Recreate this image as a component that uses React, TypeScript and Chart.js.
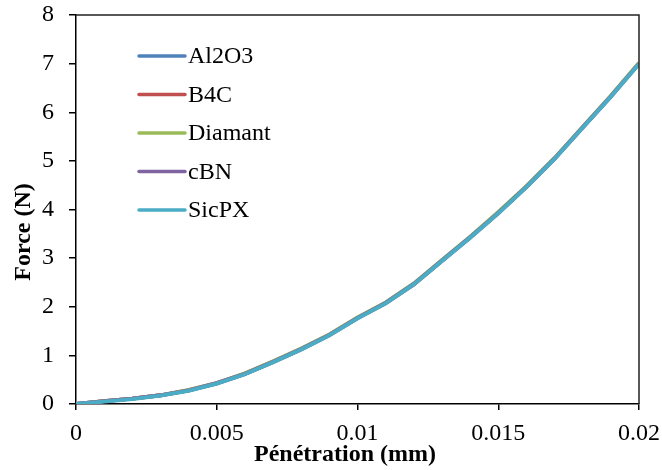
import React, { useEffect, useRef } from "react";
import { Chart, registerables } from "chart.js";

Chart.register(...registerables);

const penetration = [0, 0.001, 0.002, 0.003, 0.004, 0.005, 0.006, 0.007, 0.008, 0.009, 0.01, 0.011, 0.012, 0.013, 0.014, 0.015, 0.016, 0.017, 0.018, 0.019, 0.02];
const al2o3 = [0, 0.06, 0.11, 0.18, 0.28, 0.42, 0.62, 0.86, 1.12, 1.41, 1.76, 2.07, 2.46, 2.94, 3.42, 3.92, 4.46, 5.04, 5.68, 6.32, 7.0];
const b4c = [0, 0.06, 0.11, 0.18, 0.28, 0.43, 0.62, 0.87, 1.13, 1.42, 1.77, 2.08, 2.46, 2.95, 3.43, 3.93, 4.47, 5.05, 5.69, 6.33, 7.01];
const diamant = [0, 0.06, 0.11, 0.18, 0.29, 0.43, 0.63, 0.88, 1.14, 1.43, 1.78, 2.09, 2.48, 2.96, 3.44, 3.95, 4.48, 5.06, 5.7, 6.34, 7.02];
const cbn = [0, 0.06, 0.11, 0.18, 0.28, 0.43, 0.62, 0.87, 1.13, 1.42, 1.77, 2.08, 2.47, 2.95, 3.43, 3.93, 4.47, 5.05, 5.69, 6.33, 7.0];
const sicpx = [0, 0.05, 0.1, 0.17, 0.27, 0.42, 0.61, 0.86, 1.12, 1.41, 1.76, 2.07, 2.46, 2.94, 3.42, 3.92, 4.46, 5.04, 5.68, 6.32, 6.99];

const seriesNames = ["Al2O3", "B4C", "Diamant", "cBN", "SicPX"];
const seriesValues = [al2o3, b4c, diamant, cbn, sicpx];
const seriesColors = ["#4F81BD", "#C0504D", "#9BBB59", "#8064A2", "#4BACC6"];

const xTicks = [0, 0.005, 0.01, 0.015, 0.02];
const xTitle = "Pénétration (mm)";
const yTitle = "Force (N)";

const FONT = "'Liberation Serif', 'Times New Roman', serif";

const overlayPlugin = {
  id: "overlay",
  afterDraw(chart: any) {
    const ctx = chart.ctx;
    const a = chart.chartArea;
    ctx.save();
    ctx.strokeStyle = "#222";
    ctx.lineWidth = 1.5;
    ctx.beginPath();
    ctx.moveTo(a.left, a.top);
    ctx.lineTo(a.right, a.top);
    ctx.lineTo(a.right, a.bottom);
    ctx.stroke();
    ctx.font = "24px " + FONT;
    ctx.textBaseline = "middle";
    ctx.textAlign = "left";
    chart.data.datasets.forEach((ds: any, i: number) => {
      const y = 56 + i * 38.5;
      ctx.strokeStyle = ds.borderColor;
      ctx.lineWidth = 3.5;
      ctx.lineCap = "round";
      ctx.beginPath();
      ctx.moveTo(139, y);
      ctx.lineTo(185, y);
      ctx.stroke();
      ctx.fillStyle = "#000";
      ctx.fillText(ds.label, 188, y + 1);
    });
    ctx.font = "bold 24px " + FONT;
    ctx.fillStyle = "#000";
    ctx.textAlign = "center";
    ctx.textBaseline = "middle";
    ctx.fillText(xTitle, 345, 455);
    ctx.translate(24, 232);
    ctx.rotate(-Math.PI / 2);
    ctx.fillText(yTitle, 0, 0);
    ctx.restore();
  },
};

export default function App() {
  const ref = useRef<HTMLCanvasElement>(null);
  useEffect(() => {
    const canvas = ref.current!;
    const datasets = seriesNames.map((name, i) => ({
      label: name,
      data: penetration.map((x, j) => ({ x, y: seriesValues[i][j] })),
      borderColor: seriesColors[i],
      backgroundColor: seriesColors[i],
      borderWidth: 3.8,
      pointRadius: 0,
      showLine: true,
      fill: false,
      tension: 0,
      order: seriesNames.length - i,
    }));
    const chart = new Chart(canvas, {
      type: "scatter",
      data: { datasets },
      options: {
        animation: false,
        responsive: false,
        devicePixelRatio: 1,
        layout: { padding: { left: 0, top: 15, right: 23, bottom: 0 } },
        plugins: { legend: { display: false }, tooltip: { enabled: false } },
        scales: {
          x: {
            type: "linear",
            min: 0,
            max: 0.02,
            afterBuildTicks: (s: any) => {
              s.ticks = xTicks.map((v) => ({ value: v }));
            },
            afterFit: (s: any) => {
              s.height = 66;
              s.paddingLeft = 0;
              s.paddingRight = 0;
            },
            border: { color: "#000", width: 1.5 },
            grid: { drawOnChartArea: false, color: "#000", tickLength: 6, lineWidth: 1.5 },
            ticks: {
              color: "#000",
              font: { family: FONT, size: 24 },
              padding: 9,
              maxRotation: 0,
              autoSkip: false,
              callback: (v: any) => String(Number(Number(v).toFixed(3))),
            },
          },
          y: {
            type: "linear",
            min: 0,
            max: 8,
            afterFit: (s: any) => {
              s.width = 76;
              s.paddingTop = 0;
              s.paddingBottom = 0;
            },
            border: { color: "#000", width: 1.5 },
            grid: { drawOnChartArea: false, color: "#000", tickLength: 7, lineWidth: 1.5 },
            ticks: {
              stepSize: 1,
              color: "#000",
              font: { family: FONT, size: 24 },
              padding: 15,
            },
          },
        },
      },
      plugins: [overlayPlugin],
    });
    return () => chart.destroy();
  }, []);
  return (
    <div style={{ position: "absolute", left: 0, top: 0, width: 662, height: 470, background: "#fff" }}>
      <canvas ref={ref} width={662} height={470} style={{ display: "block" }} />
    </div>
  );
}
